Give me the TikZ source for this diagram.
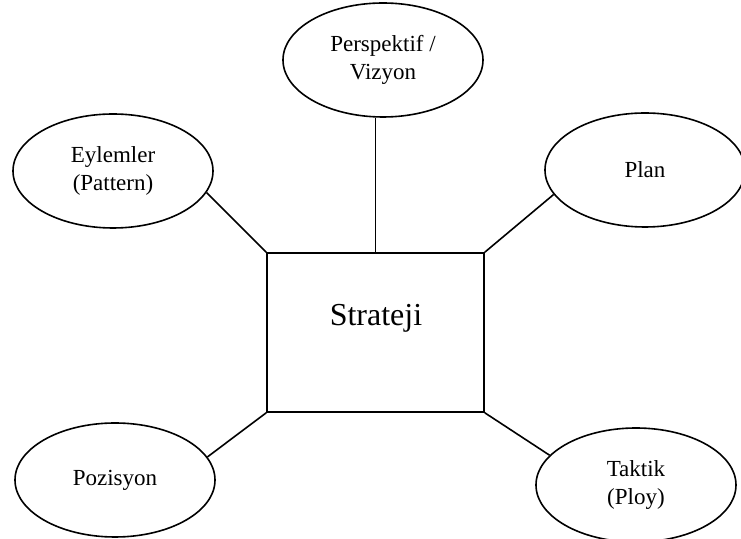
\documentclass[tikz,border=0pt]{standalone}
\usepackage{fontspec}
\setmainfont{Liberation Serif}
\usetikzlibrary{shapes.geometric}

\begin{document}
\begin{tikzpicture}[x=0.5pt, y=-0.5pt, line width=0.8pt,
  oval/.style={draw, ellipse, minimum width=100pt, minimum height=57pt, inner sep=0pt, align=center, font=\fontsize{11.5}{14}\selectfont},
  kutu/.style={draw, rectangle, minimum width=108.5pt, minimum height=79.5pt, inner sep=0pt}]
 \useasboundingbox (0,0) rectangle (741,539);

 \node[kutu] (strateji) at (375.5,332.5) {};
 \node[font=\fontsize{16}{19}\selectfont] (baslik) at (376,318) {Strateji};

 \node[oval] (perspektif) at (383,60) {Perspektif /\\Vizyon};
 \node[oval] (eylemler) at (113,171) {Eylemler\\(Pattern)};
 \node[oval] (plan) at (645,170) {Plan};
 \node[oval] (pozisyon) at (115,480) {Pozisyon};
 \node[oval] (taktik) at (636,485) {Taktik\\(Ploy)};

 \draw (strateji.north) -- (strateji.north |- perspektif.south);
 \draw (strateji.north west) -- (eylemler.-13);
 \draw (strateji.north east) -- (plan.-165);
 \draw (strateji.south west) -- (pozisyon.14);
 \draw (strateji.south east) -- (taktik.161);
\end{tikzpicture}
\end{document}
